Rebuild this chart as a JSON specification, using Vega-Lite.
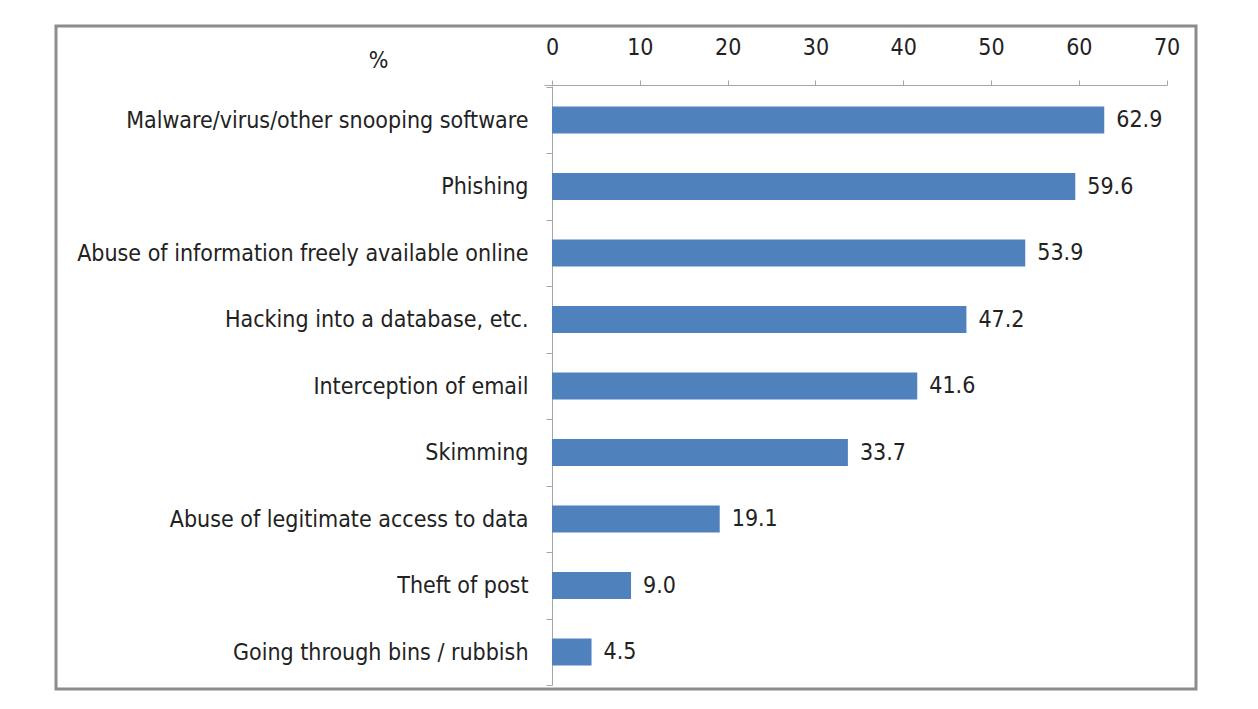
{
  "$schema": "https://vega.github.io/schema/vega-lite/v6.json",
  "width": 1140,
  "height": 663,
  "autosize": "none",
  "padding": {"left": 56, "top": 26, "right": 62, "bottom": 20},
  "background": "white",
  "config": {
    "view": {"stroke": "#8c8c8c", "strokeWidth": 3, "fill": "white"},
    "font": "Liberation Sans Narrow, DejaVu Sans Condensed, Lato, sans-serif"
  },
  "data": {
    "values": [
      {"threat": "Malware/virus/other snooping software", "pct": 62.9},
      {"threat": "Phishing", "pct": 59.6},
      {"threat": "Abuse of information freely available online", "pct": 53.9},
      {"threat": "Hacking into a database, etc.", "pct": 47.2},
      {"threat": "Interception of email", "pct": 41.6},
      {"threat": "Skimming", "pct": 33.7},
      {"threat": "Abuse of legitimate access to data", "pct": 19.1},
      {"threat": "Theft of post", "pct": 9.0},
      {"threat": "Going through bins / rubbish", "pct": 4.5}
    ]
  },
  "encoding": {
    "y": {
      "field": "threat",
      "type": "nominal",
      "sort": null,
      "scale": {"paddingInner": 0, "paddingOuter": 0.485, "align": 0.942},
      "axis": {
        "orient": "left",
        "offset": -496,
        "title": "%",
        "titleAngle": 0,
        "titleX": -174,
        "titleY": 34,
        "titleBaseline": "middle",
        "titleAlign": "center",
        "titleFontSize": 23,
        "titleFontWeight": "normal",
        "titleColor": "#222222",
        "tickBand": "extent",
        "tickSize": 6,
        "tickColor": "#a6a6a6",
        "domainColor": "#a6a6a6",
        "domainDash": [0, 60, 599, 10],
        "labelPadding": 18,
        "labelFontSize": 23,
        "labelLimit": 0,
        "labelColor": "#222222"
      }
    },
    "x": {
      "field": "pct",
      "type": "quantitative",
      "scale": {"domain": [-56.5, 73.35], "nice": false, "zero": false},
      "axis": {
        "orient": "top",
        "offset": -59,
        "values": [0, 10, 20, 30, 40, 50, 60, 70],
        "title": null,
        "grid": false,
        "domainColor": "#a6a6a6",
        "domainDash": [0, 488, 623, 100],
        "tickColor": "#a6a6a6",
        "tickSize": 5,
        "labelFontSize": 23,
        "labelColor": "#222222",
        "labelPadding": 21
      }
    }
  },
  "layer": [
    {
      "mark": {"type": "bar", "color": "#4f81bd", "height": {"band": 0.406}},
      "encoding": {"x2": {"datum": 0}}
    },
    {
      "mark": {"type": "text", "align": "left", "baseline": "middle", "dx": 12, "fontSize": 23, "color": "#222222"},
      "encoding": {"text": {"field": "pct", "type": "quantitative", "format": ".1f"}}
    }
  ]
}
